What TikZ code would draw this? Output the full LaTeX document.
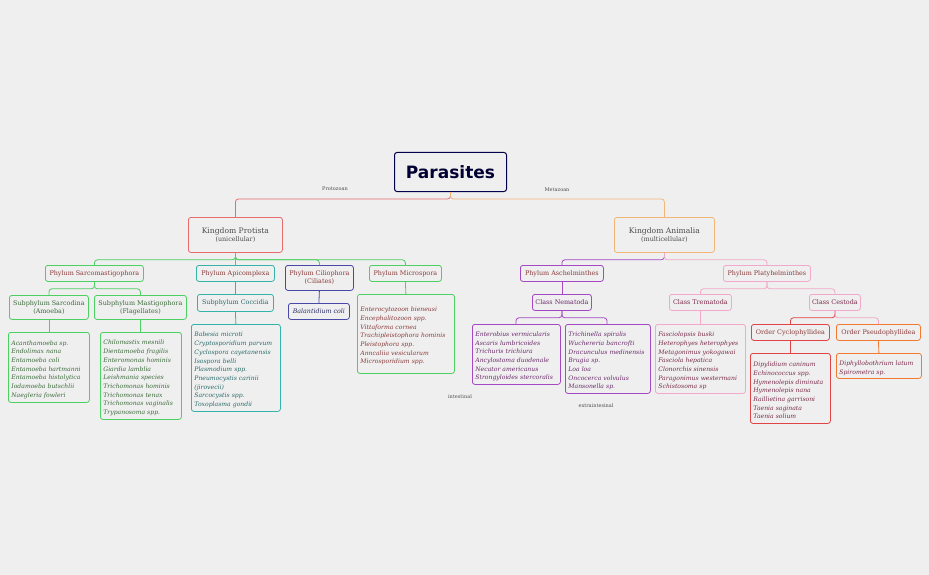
\documentclass[tikz,border=0pt]{standalone}
\usepackage{fontspec}
\setmainfont{DejaVu Serif}
\newfontfamily\headfont{DejaVu Sans}
\usetikzlibrary{calc}
\definecolor{bg}{HTML}{EFEFEF}
\definecolor{cred}{HTML}{E86A6A}
\definecolor{corg}{HTML}{F2B678}
\definecolor{cgrn}{HTML}{4CD062}
\definecolor{cteal}{HTML}{34B4A8}
\definecolor{cblu}{HTML}{4848A8}
\definecolor{cpur}{HTML}{A448C4}
\definecolor{cpnk}{HTML}{F2A8C8}
\definecolor{cred2}{HTML}{E04444}
\definecolor{corg2}{HTML}{F27A30}
\definecolor{tbrn}{HTML}{8A3A3A}
\definecolor{tgrn}{HTML}{3A6A3A}
\definecolor{tteal}{HTML}{2A6A6A}
\definecolor{tpur}{HTML}{6A2A6A}
\definecolor{tmar}{HTML}{7A2A4A}
\tikzset{
 x=1pt,y=-1pt,
 box/.style={draw,rounded corners=2.5pt,line width=0.8pt,font=\fontsize{6.4}{8}\selectfont,align=center,inner sep=2pt,text=tbrn},
 gbox/.style={box,anchor=north west,inner sep=0pt},
 lst/.style={draw,rounded corners=2.5pt,line width=0.8pt,anchor=north west,font=\fontsize{6.1}{8.7}\selectfont\itshape,align=left,inner xsep=3pt,inner ysep=0pt},
 con/.style={line width=0.8pt,rounded corners=3pt},
 lbl/.style={font=\fontsize{5}{6}\selectfont,text=black!70,fill=bg,inner sep=1pt}
}
\newcommand{\bx}[7]{% name, x, y, w, h, color, text
 \node[gbox,draw=#6,minimum width=#4,minimum height=#5] (#1) at (#2,#3) {#7};}
\newcommand{\ls}[8]{% name,x,y,w,h,color,textcolor,text
 \node[lst,draw=#6,text=#7,minimum width=#4,minimum height=#5,text width=#4-6pt] (#1) at (#2,#3) {\rule{0pt}{9pt}#8\par};}
\begin{document}
\begin{tikzpicture}
\fill[bg] (0,0) rectangle (929,575);
\useasboundingbox (0,0) rectangle (929,575);
\node[gbox,draw=black!70!blue,line width=1pt,minimum width=112,minimum height=39,font=\headfont\bfseries\fontsize{17}{20}\selectfont,text=black!80!blue] (par) at (394,152) {Parasites};
\bx{pro}{188}{217}{94}{35}{cred}{\fontsize{7.6}{11}\selectfont\color{black!70}Kingdom Protista\\\color{black!70}(unicellular)}
\bx{ani}{614}{217}{100}{35}{corg}{\fontsize{7.6}{11}\selectfont\color{black!70}Kingdom Animalia\\\color{black!70}(multicellular)}
\draw[con,cred] (par.south) -- ($(par.south)+(0,7)$) -| (pro.north);
\draw[con,corg] (par.south) -- ($(par.south)+(0,7)$) -| (ani.north);
\node[lbl] (lp) at (335,189) {Protozoan};
\node[lbl] (lm) at (557,190) {Metazoan};
% protista phyla
\bx{sar}{45}{265}{98}{16}{cgrn}{Phylum Sarcomastigophora}
\bx{api}{196}{265}{78}{16}{cteal}{Phylum Apicomplexa}
\bx{cil}{285}{265}{68}{25}{cblu}{Phylum Ciliophora\\(Ciliates)}
\bx{mic}{369}{265}{72}{16}{cgrn}{Phylum Microspora}
\foreach \t in {sar,api,cil,mic}{\draw[con,cgrn] (pro.south) -- ($(pro.south)+(0,7)$) -| (\t.north);}
\bx{sdn}{9}{295}{79}{24}{cgrn}{\color{tgrn}Subphylum Sarcodina\\\color{tgrn}(Amoeba)}
\bx{mst}{94}{295}{92}{24}{cgrn}{\color{tgrn}Subphylum Mastigophora\\\color{tgrn}(Flagellates)}
\foreach \t in {sdn,mst}{\draw[con,cgrn] (sar.south) -- ($(sar.south)+(0,7)$) -| (\t.north);}
\ls{l1}{8}{332}{81}{70}{cgrn}{tgrn}{Acanthamoeba sp.\\Endolimax nana\\Entamoeba coli\\Entamoeba hartmanni\\Entamoeba histolytica\\Iodamoeba butschlii\\Naegleria fowleri}
\ls{l2}{100}{332}{81}{87}{cgrn}{tgrn}{Chilomastix mesnili\\Dientamoeba fragilis\\Enteromonas hominis\\Giardia lamblia\\Leishmania species\\Trichomonas hominis\\Trichomonas tenax\\Trichomonas vaginalis\\Trypanosoma spp.}
\draw[con,cgrn] (sdn.south) -- (l1.north);
\draw[con,cgrn] (mst.south) -- (mst.south|-l2.north);
\bx{coc}{197}{294}{76}{17}{cteal}{\color{tteal}Subphylum Coccidia}
\draw[con,cteal] (api.south) -- (coc.north);
\ls{l3}{191}{324}{89}{87}{cteal}{tteal}{Babesia microti\\Cryptosporidium parvum\\Cyclospora cayetanensis\\Isospora belli\\Plasmodium spp.\\Pneumocystis carinii\\(jirovecii)\\Sarcocystis spp.\\Toxoplasma gondii}
\draw[con,cteal] (coc.south) -- (l3.north);
\node[gbox,draw=cblu,minimum width=61,minimum height=16,text=cblu!60!black,font=\fontsize{6.3}{8}\selectfont\itshape] (bal) at (288,303) {Balantidium coli};
\draw[con,cblu] (cil.south) -- (bal.north);
\ls{l4}{357}{294}{97}{79}{cgrn}{tbrn}{Enterocytozoon bieneusi\\Encephalitozoon spp.\\Vittaforma cornea\\Trachipleistophora hominis\\Pleistophora spp.\\Anncaliia vesicularum\\Microsporidium spp.}
\draw[con,cgrn] (mic.south) -- (l4.north);
% animalia
\bx{asc}{520}{265}{83}{16}{cpur}{Phylum Aschelminthes}
\bx{pla}{723}{265}{87}{16}{cpnk}{Phylum Platyhelminthes}
\draw[con,cpur] (ani.south) -- ($(ani.south)+(0,7)$) -| (asc.north);
\draw[con,cpnk] (ani.south) -- ($(ani.south)+(0,7)$) -| (pla.north);
\bx{nem}{532}{294}{59}{16}{cpur}{\color{tpur}Class Nematoda}
\draw[con,cpur] (asc.south) -- (nem.north);
\ls{l5}{472}{324}{88}{60}{cpur}{tpur}{Enterobius vermicularis\\Ascaris lumbricoides\\Trichuris trichiura\\Ancylostoma duodenale\\Necator americanus\\Strongyloides stercoralis}
\ls{l6}{565}{324}{85}{69}{cpur}{tpur}{Trichinella spiralis\\Wuchereria bancrofti\\Dracunculus medinensis\\Brugia sp.\\Loa loa\\Oncocerca volvulus\\Mansonella sp.}
\coordinate (c5) at (516,324);
\coordinate (c6) at (607,324);
\draw[con,cpur] (nem.south) -- ($(nem.south)+(0,7)$) -| (c5);
\draw[con,cpur] (nem.south) -- ($(nem.south)+(0,7)$) -| (c6);
\node[lbl] (li) at (460,397) {intestinal};
\node[lbl] (le) at (596,406) {extraintesinal};
\bx{tre}{669}{294}{62}{16}{cpnk}{\color{tmar}Class Trematoda}
\bx{ces}{809}{294}{51}{16}{cpnk}{\color{tmar}Class Cestoda}
\foreach \t in {tre,ces}{\draw[con,cpnk] (pla.south) -- ($(pla.south)+(0,7)$) -| (\t.north);}
\ls{l7}{655}{324}{90}{69}{cpnk}{tmar}{Fasciolopsis buski\\Heterophyes heterophyes\\Metagonimus yokogawai\\Fasciola hepatica\\Clonorchis sinensis\\Paragonimus westermani\\Schistosoma sp}
\draw[con,cpnk] (tre.south) -- (l7.north);
\bx{cyc}{751}{324}{78}{16}{cred2}{Order Cyclophyllidea}
\bx{pse}{836}{324}{84}{16}{corg2}{Order Pseudophyllidea}
\draw[con,cred2] (ces.south) -- ($(ces.south)+(0,7)$) -| (cyc.north);
\draw[con,cpnk] (ces.south) -- ($(ces.south)+(0,7)$) -| (pse.north);
\ls{l8}{750}{353}{80}{70}{cred2}{tmar}{Dipylidium caninum\\Echinococcus spp.\\Hymenolepis diminuta\\Hymenolepis nana\\Raillietina garrisoni\\Taenia saginata\\Taenia solium}
\ls{l9}{836}{353}{85}{25}{corg2}{tmar}{Diphyllobothrium latum\\Spirometra sp.}
\draw[con,cred2] (cyc.south) -- (l8.north);
\draw[con,corg2] (pse.south) -- (l9.north);
\end{tikzpicture}
\end{document}
